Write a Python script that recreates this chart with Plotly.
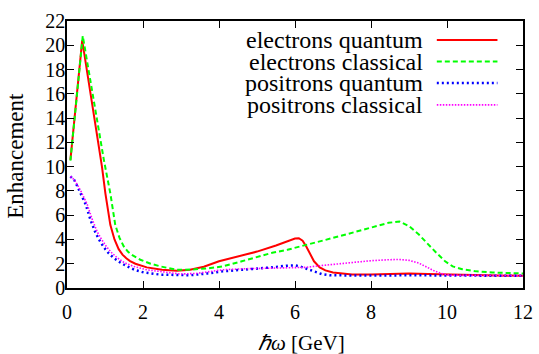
import plotly.graph_objects as go

# ---- data ----
eq_x = [0.09, 0.4, 0.92, 1.01, 1.14, 1.25, 1.36, 1.46, 1.56, 1.66, 1.8, 2.1, 2.5, 2.89, 3.24, 3.6, 4.0, 4.5, 5.0,
        5.5, 5.8, 6.0, 6.1, 6.2, 6.3, 6.4, 6.5, 6.65, 6.8, 7.0, 7.5, 8.0, 8.5, 9.0, 9.5, 10.0, 11.0, 12.0]
eq_y = [10.55, 20.4, 10.0, 7.8, 5.2, 4.0, 3.2, 2.75, 2.45, 2.22, 2.0, 1.7, 1.5, 1.42, 1.5, 1.75, 2.2, 2.6, 3.0,
        3.5, 3.85, 4.08, 4.1, 3.9, 3.4, 2.8, 2.2, 1.7, 1.45, 1.28, 1.12, 1.12, 1.15, 1.2, 1.15, 1.1, 1.05, 1.0]

ec_x = [0.09, 0.415, 0.97, 1.14, 1.27, 1.38, 1.49, 1.6, 1.72, 1.93, 2.2, 2.46, 2.89, 3.3, 3.7, 4.1,
        4.6, 5.0, 5.4, 5.8, 6.13, 6.6, 7.15, 7.6, 8.0, 8.46, 8.75, 9.0, 9.26, 9.5, 9.72, 9.95, 10.15, 10.4, 10.77,
        11.2, 11.6, 12.0]
ec_y = [10.5, 20.77, 10.56, 7.8, 5.2, 4.15, 3.45, 3.0, 2.7, 2.33, 2.0, 1.78, 1.5, 1.52, 1.62, 1.78,
        2.2, 2.55, 2.9, 3.15, 3.4, 3.8, 4.25, 4.65, 5.0, 5.37, 5.48, 5.1, 4.4, 3.6, 2.9, 2.2, 1.78, 1.55, 1.37,
        1.28, 1.22, 1.2]

pq_x = [0.09, 0.2, 0.35, 0.49, 0.62, 0.75, 0.86, 0.97, 1.1, 1.23, 1.4, 1.58, 1.8, 2.02, 2.46, 2.9, 3.24, 3.7, 4.1,
        4.6, 5.0, 5.4, 5.78, 6.0, 6.13, 6.3, 6.48, 6.7, 6.92, 7.5, 8.0, 9.0, 10.0, 11.0, 12.0]
pq_y = [9.2, 8.85, 7.85, 6.9, 5.6, 4.55, 3.9, 3.35, 2.85, 2.47, 2.1, 1.78, 1.47, 1.28, 1.1, 1.05, 1.05, 1.2, 1.37,
        1.5, 1.59, 1.7, 1.84, 1.86, 1.78, 1.6, 1.37, 1.15, 1.05, 1.02, 1.02, 1.05, 1.02, 1.0, 1.0]

pc_x = [0.09, 0.2, 0.38, 0.53, 0.67, 0.8, 0.92, 1.04, 1.17, 1.32, 1.5, 1.75, 2.1, 2.46, 2.98, 3.4, 4.1, 4.6, 5.4,
        6.0, 6.29, 6.6, 7.16, 7.6, 8.0, 8.47, 8.73, 9.0, 9.25, 9.45, 9.69, 9.9, 10.1, 10.5, 11.0, 12.0]
pc_y = [9.2, 8.9, 7.9, 6.9, 5.6, 4.6, 3.95, 3.4, 2.92, 2.5, 2.1, 1.78, 1.5, 1.37, 1.15, 1.2, 1.5, 1.58, 1.65,
        1.68, 1.7, 1.82, 2.0, 2.15, 2.25, 2.33, 2.35, 2.28, 2.06, 1.75, 1.37, 1.15, 1.05, 1.04, 1.03, 1.02]

x_ticks = [0, 2, 4, 6, 8, 10, 12]
y_ticks = [0, 2, 4, 6, 8, 10, 12, 14, 16, 18, 20, 22]

series = [
    ("electrons quantum", eq_x, eq_y, dict(color="#ff0000", width=2, dash="solid")),
    ("electrons classical", ec_x, ec_y, dict(color="#00ff00", width=2, dash="5px,3px")),
    ("positrons quantum", pq_x, pq_y, dict(color="#0000ff", width=2.5, dash="2px,3px")),
    ("positrons classical", pc_x, pc_y, dict(color="#ff00ff", width=1.6, dash="1.5px,1.5px")),
]

FONT = "Liberation Serif"
fig = go.Figure()
for name, xs, ys, ln in series:
    fig.add_trace(go.Scatter(x=xs, y=ys, mode="lines", name=name, line=ln, showlegend=False))

# manual gnuplot-style legend (text right, sample on the right)
leg_rows = [0.929, 0.848, 0.768, 0.686]
for (name, xs, ys, ln), yy in zip(series, leg_rows):
    fig.add_annotation(x=0.785, y=yy, xref="paper", yref="paper", text=name, showarrow=False,
                       xanchor="right", yanchor="middle", font=dict(family=FONT, size=24, color="black"))
    fig.add_shape(type="line", xref="paper", yref="paper", x0=0.811, x1=0.944, y0=yy, y1=yy,
                  line=ln)

fig.add_annotation(x=0.515, y=-0.205, xref="paper", yref="paper", text="<i>ℏω</i> [GeV]", showarrow=False,
                   xanchor="center", yanchor="middle", font=dict(family=FONT, size=21, color="black"))
fig.add_annotation(x=-0.112, y=0.495, xref="paper", yref="paper", text="Enhancement", showarrow=False,
                   textangle=-90, xanchor="center", yanchor="middle", font=dict(family=FONT, size=23, color="black"))

axis_common = dict(showline=True, linecolor="black", linewidth=1.5, mirror="ticks", ticks="inside",
                   ticklen=7, tickwidth=1.2, tickcolor="black", showgrid=False, zeroline=False,
                   automargin=False, tickfont=dict(family=FONT, size=20, color="black"))
fig.update_xaxes(range=[0, 12], tickvals=x_ticks, ticklabelstandoff=5, **axis_common)
fig.update_yaxes(range=[0, 22], tickvals=y_ticks, ticklabelstandoff=-4, **axis_common)

fig.update_layout(width=539, height=354, margin=dict(l=66.5, r=15.5, t=21, b=66, autoexpand=False),
                  plot_bgcolor="white", paper_bgcolor="white", showlegend=False)
fig.write_html("out.html", config={"displayModeBar": False},
               post_script="document.body.style.margin='0';")
